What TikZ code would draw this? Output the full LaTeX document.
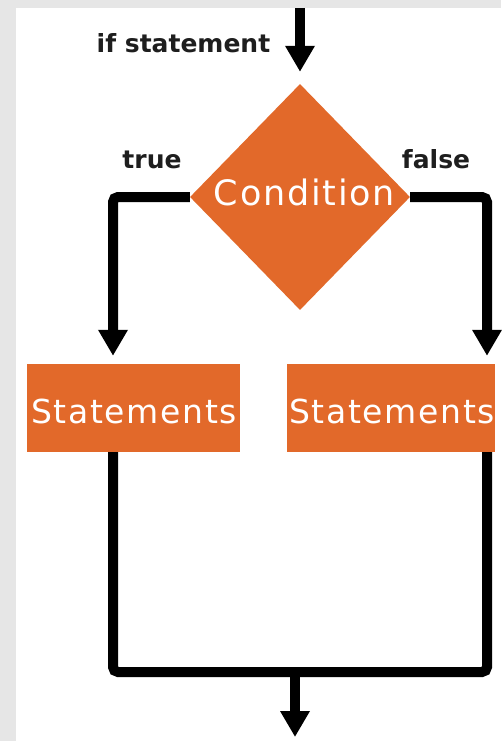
\documentclass[tikz,border=0pt]{standalone}
\usepackage{fontspec}
\setmainfont{DejaVu Sans}
\newfontfamily\boxfont[LetterSpace=5]{DejaVu Sans}
\usetikzlibrary{shapes.geometric,arrows.meta}
\definecolor{flow}{HTML}{E2692A}
\definecolor{bggray}{HTML}{E6E6E6}
\definecolor{ink}{HTML}{1E1E1E}
\tikzset{
  wire/.style={line width=10pt, black, rounded corners=5pt},
  arrowwire/.style={wire, -{Triangle[width=28pt,length=26pt]}},
  orangebox/.style={fill=flow, inner sep=0pt},
  boxtext/.style={text=white, inner sep=0pt, anchor=base, font=\boxfont\fontsize{33}{33}\selectfont},
  lbl/.style={font=\fontsize{25}{25}\selectfont\bfseries, text=ink, inner sep=0pt, anchor=base}
}
\begin{document}
\begin{tikzpicture}[x=1pt,y=-1pt]
\fill[bggray] (0,0) rectangle (501,741);
\fill[white] (16,8) rectangle (501,741);
\useasboundingbox (0,0) rectangle (501,741);
% nodes
\node[diamond, fill=flow, minimum width=220pt, minimum height=226pt, inner sep=0pt] (cond) at (300,197) {};
\node[boxtext, font=\boxfont\fontsize{35}{35}\selectfont] (condtxt) at (304.5,205) {Condition};
\node[orangebox, minimum width=213pt, minimum height=88pt] (ls) at (133.5,408) {};
\node[orangebox, minimum width=208pt, minimum height=88pt] (rs) at (391,408) {};
\node[boxtext] (lstxt) at (134,423) {Statements};
\node[boxtext] (rstxt) at (392,423) {Statements};
\node[lbl] (iflbl) at (183.5,53) {if statement};
\node[lbl] (truelbl) at (152,168) {true};
\node[lbl] (falselbl) at (436,168) {false};
% coordinates
\coordinate (top) at (300,8);
\coordinate (lx) at (113,0);
\coordinate (rx) at (487,0);
\coordinate (my) at (0,672);
\coordinate (lbend) at (lx |- cond.west);
\coordinate (rbend) at (rx |- cond.east);
\coordinate (lbot) at (lx |- my);
\coordinate (rbot) at (rx |- my);
\coordinate (mid) at (295,672);
\coordinate (endpt) at (295,737);
% connectors
\draw[arrowwire, shorten >=12pt] (top) -- (cond.north);
\draw[arrowwire, shorten >=8pt] (cond.west) -- (lbend) -- (lx |- ls.north);
\draw[arrowwire, shorten >=8pt] (cond.east) -- (rbend) -- (rx |- rs.north);
\draw[wire] (lx |- ls.south) -- (lbot) -- (rbot) -- (rx |- rs.south);
\draw[arrowwire] (mid) -- (endpt);
\end{tikzpicture}
\end{document}
